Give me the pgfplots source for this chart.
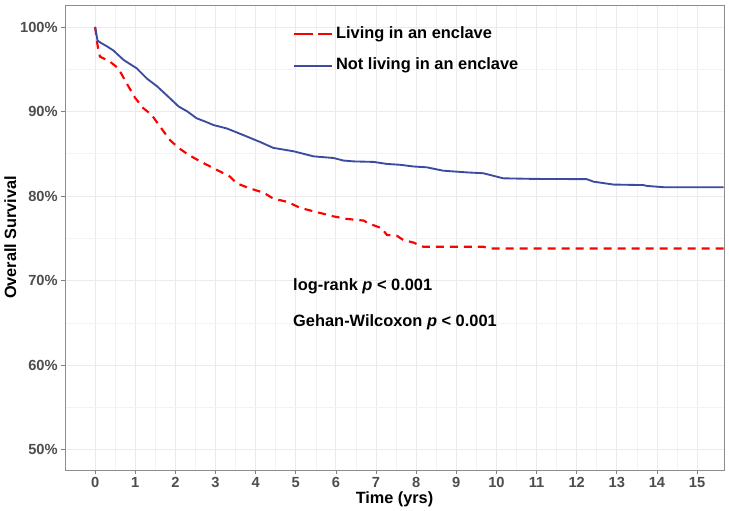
\documentclass[border=0pt]{standalone}
\usepackage{pgfplots}
\pgfplotsset{compat=1.18}
\usepackage{fontspec}
\setmainfont{Liberation Sans}
\definecolor{kmblue}{RGB}{59,76,160}
\definecolor{kmred}{RGB}{255,0,0}
\definecolor{gridc}{RGB}{235,235,235}
\definecolor{gridm}{RGB}{243,243,243}
\definecolor{tickc}{RGB}{77,77,77}
\begin{document}
\begin{tikzpicture}
\begin{axis}[
  scale only axis,
  width=494.25pt, height=348.75pt,
  xmin=-0.75, xmax=15.67, ymin=47.6, ymax=102.6,
  xtick={0,1,...,15},
  ytick={50,60,70,80,90,100},
  yticklabels={50\%,60\%,70\%,80\%,90\%,100\%},
  minor x tick num=1, minor y tick num=1,
  grid=both,
  major grid style={gridc, line width=0.7pt},
  minor grid style={gridm, line width=0.5pt},
  axis line style={black!45, line width=0.7pt},
  tick align=outside, tick pos=left,
  major tick length=3pt, minor tick length=0pt,
  tick style={black!50, line width=0.6pt},
  /pgf/number format/assume math mode=true,
  ticklabel style={font=\bfseries\fontsize{11}{13}\selectfont, text=tickc},
  yticklabel style={xshift=1pt},
  xticklabel style={yshift=1pt},
  xlabel={Time (yrs)},
  ylabel={Overall Survival},
  label style={font=\bfseries\fontsize{12.2}{14}\selectfont},
  xlabel style={yshift=4pt},
  ylabel style={yshift=-4pt},
  legend cell align=left,
  legend image code/.code={\draw[#1] (0pt,0pt) -- (28pt,0pt);},
  legend style={at={(rel axis cs:0.346,0.957)}, anchor=north west, draw=none, fill=none,
    inner sep=0pt, font=\bfseries\fontsize{12.3}{14}\selectfont, row sep=10pt,
    nodes={inner xsep=2.5pt, inner ysep=1pt, text height=9pt, text depth=2.5pt}},
]
\addplot[kmred, line width=1.6pt, dash pattern=on 6pt off 4.5pt,
  legend image post style={dash pattern=on 14pt off 4pt}] coordinates {
(0,100)(0.04,98.5)(0.08,97.3)(0.12,96.5)(0.37,95.9)(0.58,95.1)(0.79,93.3)(1.0,91.6)(1.2,90.4)(1.41,89.6)(1.62,88.2)(1.87,86.6)(2.08,85.7)(2.32,84.9)(2.62,84.1)(2.95,83.3)(3.36,82.3)(3.53,81.5)(3.86,80.9)(4.2,80.4)(4.44,79.7)(4.8,79.3)(5.11,78.6)(5.44,78.2)(5.94,77.6)(6.27,77.3)(6.69,77.1)(6.85,76.7)(7.14,76.2)(7.27,75.4)(7.52,75.3)(7.68,74.8)(7.93,74.5)(8.18,74.0)(9.68,74.0)(9.84,73.8)(15.66,73.8)
};
\addlegendentry{Living in an enclave}
\addplot[kmblue, line width=1.4pt] coordinates {
(0,100)(0.03,99.2)(0.06,98.4)(0.15,98.1)(0.3,97.7)(0.46,97.2)(0.71,96.1)(1.04,95.1)(1.29,93.9)(1.54,93.0)(1.79,91.9)(2.08,90.6)(2.3,90.0)(2.53,89.2)(2.75,88.8)(2.95,88.4)(3.28,88.0)(3.7,87.2)(4.11,86.4)(4.44,85.7)(4.94,85.3)(5.11,85.1)(5.44,84.7)(5.94,84.5)(6.19,84.2)(6.44,84.1)(6.94,84.04)(7.27,83.8)(7.6,83.7)(7.93,83.5)(8.26,83.4)(8.68,83.0)(9.26,82.8)(9.67,82.7)(9.92,82.4)(10.17,82.1)(10.92,82.03)(12.25,82.0)(12.42,81.7)(12.92,81.36)(13.66,81.3)(13.75,81.2)(14.16,81.05)(15.66,81.05)
};
\addlegendentry{Not living in an enclave}
\node[anchor=west, inner sep=0pt, font=\bfseries\fontsize{12.3}{14}\selectfont] at (axis cs:4.93,69.3) {log-rank \textit{p} < 0.001};
\node[anchor=west, inner sep=0pt, font=\bfseries\fontsize{12.3}{14}\selectfont] at (axis cs:4.93,65.1) {Gehan-Wilcoxon \textit{p} < 0.001};
\end{axis}
\pgfresetboundingbox
\path[use as bounding box] ([xshift=-48.75pt,yshift=-30.75pt]current axis.south west) rectangle ([xshift=3.75pt,yshift=3.75pt]current axis.north east);
\end{tikzpicture}
\end{document}
